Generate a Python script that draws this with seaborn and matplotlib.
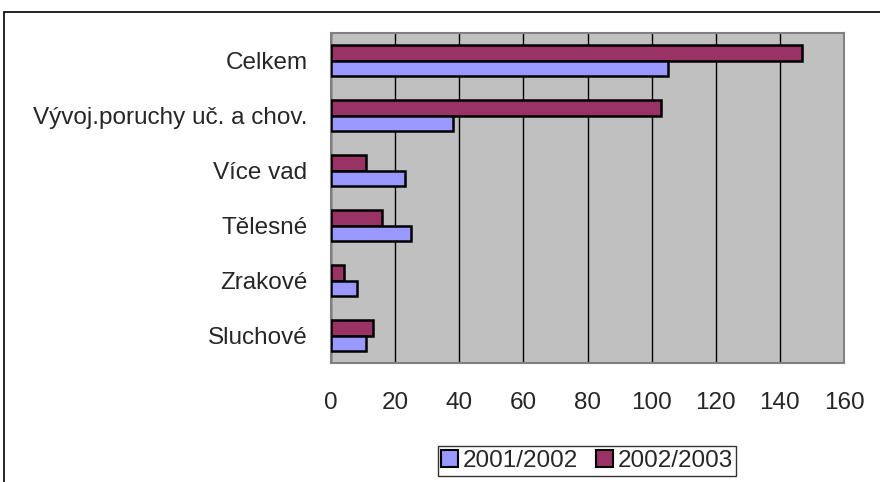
import matplotlib
matplotlib.use("Agg")
import matplotlib.pyplot as plt
import seaborn as sns
import pandas as pd
from matplotlib.patches import Rectangle, Patch

categories = ["Celkem", "Vývoj.poruchy uč. a chov.", "Více vad", "Tělesné", "Zrakové", "Sluchové"]
series_names = ["2001/2002", "2002/2003"]
values_2001 = [105, 38, 23, 25, 8, 11]
values_2002 = [147, 103, 11, 16, 4, 13]
x_ticks = [0, 20, 40, 60, 80, 100, 120, 140, 160]

colors = {"2001/2002": "#9999FF", "2002/2003": "#993366"}

df = pd.DataFrame({
    "cat": categories * 2,
    "year": [series_names[0]] * len(categories) + [series_names[1]] * len(categories),
    "val": values_2001 + values_2002,
})

sns.set_style("white")
plt.rcParams['font.family'] = ['Liberation Sans', 'DejaVu Sans']

W, H = 880, 482
fig = plt.figure(figsize=(W / 100, H / 100), dpi=100)
ax = fig.add_axes([331 / W, 1 - 363 / H, (844 - 331) / W, (363 - 33) / H])

sns.barplot(data=df, y="cat", x="val", hue="year", order=categories,
            hue_order=["2002/2003", "2001/2002"], palette=colors,
            orient="h", width=0.58, edgecolor="black", linewidth=1.8,
            saturation=1, legend=False, ax=ax, zorder=3)

FS = 17.5
ax.set_facecolor("#C0C0C0")
ax.set_xlim(0, 160)
ax.set_xticks(x_ticks)
ax.set_xticklabels([str(t) for t in x_ticks], fontsize=FS)
ax.tick_params(axis="x", length=0, pad=21)
ax.tick_params(axis="y", length=0, pad=17, labelsize=FS)
ax.grid(axis="x", color="black", linewidth=1.0, zorder=0)
ax.set_axisbelow(True)
ax.set_xlabel("")
ax.set_ylabel("")
for s in ax.spines.values():
    s.set_color("#808080")
    s.set_linewidth(1.5)
    s.set_visible(True)

handles = [Patch(facecolor=colors[n], edgecolor="black", linewidth=1.5, label=n) for n in series_names]
leg = fig.legend(handles=handles, loc="center", bbox_to_anchor=(587 / W, 1 - 461 / H),
                 ncol=2, fontsize=FS, frameon=True, fancybox=False, edgecolor="black",
                 handlelength=0.7, handleheight=0.7, handletextpad=0.2, columnspacing=0.7,
                 borderpad=0.15, borderaxespad=0)
leg.get_frame().set_linewidth(1.0)

fig.patches.append(Rectangle((4 / W, -0.1), 1.2, 1 - 12 / H + 0.1, transform=fig.transFigure,
                             fill=False, edgecolor="black", linewidth=1.2))

fig.savefig("out.png", dpi=100)
